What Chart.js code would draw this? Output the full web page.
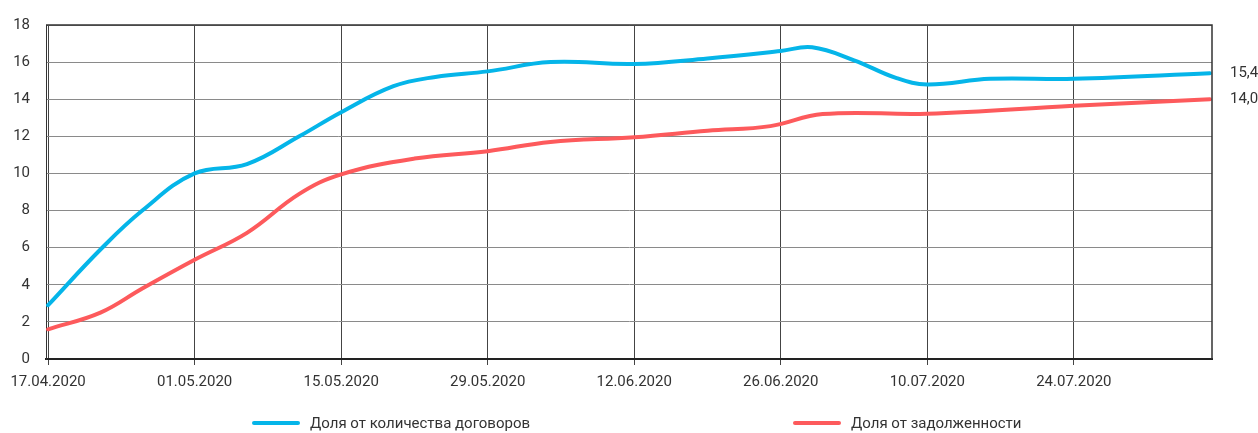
<!DOCTYPE html>
<html lang="ru">
<head>
<meta charset="utf-8">
<title>Доля от количества договоров и задолженности</title>
<script src="https://cdn.jsdelivr.net/npm/chart.js@4/dist/chart.umd.min.js"></script>
<style>
  html, body { margin: 0; padding: 0; background: #fff; }
  #wrap { position: relative; width: 1258px; height: 433px; }
  #legend {
    position: absolute; left: 0; top: 412px; width: 1258px; height: 22px;
    font: 15px Roboto, "Noto Sans", sans-serif; color: #333;
  }
  .lg-item { position: absolute; top: 0; display: flex; align-items: center; height: 22px; }
  .lg-line { width: 48px; height: 4px; border-radius: 2px; margin-right: 10px; }
</style>
</head>
<body>
<div id="wrap">
  <canvas id="chart" width="1258" height="433"></canvas>
  <div id="legend"></div>
</div>
<script>
// Days since 17.04.2020
const tickDays = [0, 14, 28, 42, 56, 70, 84, 98];
const tickLabels = ['17.04.2020', '01.05.2020', '15.05.2020', '29.05.2020',
                    '12.06.2020', '26.06.2020', '10.07.2020', '24.07.2020'];
const yTicks = [0, 2, 4, 6, 8, 10, 12, 14, 16, 18];

const blueName = 'Доля от количества договоров';
const blueDays = [0, 5, 9, 14, 19, 24, 28, 33, 37, 42, 48, 56, 63, 70, 73, 77, 81, 84, 90, 98, 111];
const blueVals = [2.9, 5.9, 8.0, 10.0, 10.5, 12.0, 13.3, 14.7, 15.2, 15.5, 16.0, 15.9, 16.2, 16.6, 16.8, 16.1, 15.15, 14.8, 15.1, 15.1, 15.4];

const redName = 'Доля от задолженности';
const redDays = [0, 5, 9, 14, 19, 24, 28, 35, 42, 48, 56, 63, 69, 74, 84, 98, 111];
const redVals = [1.6, 2.5, 3.8, 5.35, 6.8, 8.9, 9.95, 10.8, 11.2, 11.7, 11.95, 12.3, 12.55, 13.2, 13.22, 13.65, 14.0];

const endLabels = ['15,4', '14,0'];

const BLUE = '#05b5e9';
const RED = '#fd5a5c';
const TEXT = '#333333';
const FONT = 'Roboto, "Noto Sans", sans-serif';

function pts(days, vals) { return days.map((d, i) => ({ x: d, y: vals[i] })); }

// frame + value labels at the end of each line
const extras = {
  id: 'extras',
  afterDatasetsDraw(chart) {
    const { ctx, chartArea: a } = chart;
    ctx.save();
    ctx.strokeStyle = '#333';
    ctx.lineWidth = 1.5;
    ctx.beginPath();
    ctx.moveTo(a.left, a.top); ctx.lineTo(a.right, a.top); ctx.lineTo(a.right, a.bottom);
    ctx.stroke();
    ctx.fillStyle = TEXT;
    ctx.font = '15px ' + FONT;
    ctx.textAlign = 'left';
    ctx.textBaseline = 'middle';
    chart.data.datasets.forEach((ds, i) => {
      const last = ds.data[ds.data.length - 1];
      const y = chart.scales.y.getPixelForValue(last.y);
      ctx.fillText(endLabels[i], a.right + 18, y);
    });
    ctx.restore();
  }
};

const chart = new Chart(document.getElementById('chart'), {
  type: 'line',
  data: {
    datasets: [
      { label: blueName, data: pts(blueDays, blueVals), borderColor: BLUE, backgroundColor: BLUE,
        borderWidth: 4, pointRadius: 0, tension: 0.4, borderCapStyle: 'round' },
      { label: redName, data: pts(redDays, redVals), borderColor: RED, backgroundColor: RED,
        borderWidth: 4, pointRadius: 0, tension: 0.4, borderCapStyle: 'round' },
    ],
  },
  options: {
    responsive: false,
    animation: false,
    layout: { padding: { top: 22, right: 46, left: 0, bottom: 0 } },
    plugins: { legend: { display: false }, tooltip: { enabled: false } },
    scales: {
      x: {
        type: 'linear', min: -0.2, max: 111.2,
        afterBuildTicks: s => { s.ticks = tickDays.map(v => ({ value: v })); },
        afterFit: s => { s.height = 74; },
        grid: { color: '#444', lineWidth: 1, tickLength: 6, drawTicks: true },
        border: { color: '#222', width: 2 },
        ticks: {
          color: TEXT, font: { size: 15, family: FONT }, padding: 8, maxRotation: 0,
          callback: v => tickLabels[tickDays.indexOf(v)] || '',
        },
      },
      y: {
        min: 0, max: 18,
        afterBuildTicks: s => { s.ticks = yTicks.map(v => ({ value: v })); },
        afterFit: s => { s.width = 46; },
        grid: { color: '#8a8a8a', lineWidth: 1, drawTicks: false },
        border: { color: '#333', width: 1 },
        ticks: { color: TEXT, font: { size: 15, family: FONT }, padding: 16 },
      },
    },
  },
  plugins: [extras],
});

// HTML legend, spread out like the original
const legendX = [252, 793];
const legend = document.getElementById('legend');
chart.data.datasets.forEach((ds, i) => {
  const item = document.createElement('div');
  item.className = 'lg-item';
  item.style.left = legendX[i] + 'px';
  const line = document.createElement('span');
  line.className = 'lg-line';
  line.style.background = ds.borderColor;
  const txt = document.createElement('span');
  txt.textContent = ds.label;
  item.appendChild(line);
  item.appendChild(txt);
  legend.appendChild(item);
});
</script>
</body>
</html>
